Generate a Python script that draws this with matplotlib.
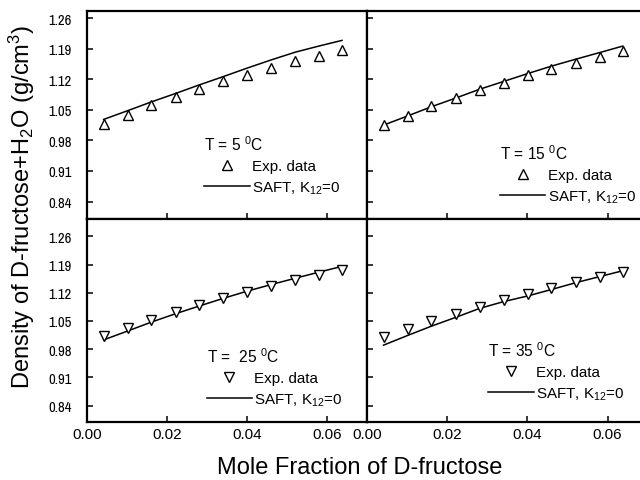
import matplotlib
matplotlib.use("Agg")
import matplotlib.pyplot as plt
from matplotlib import font_manager

plt.rcParams['font.family'] = ['Liberation Sans', 'DejaVu Sans']
plt.rcParams['mathtext.fontset'] = 'custom'
plt.rcParams['mathtext.rm'] = 'Liberation Sans'
plt.rcParams['mathtext.it'] = 'Liberation Sans:italic'
plt.rcParams['mathtext.bf'] = 'Liberation Sans:bold'

installed = {f.name for f in font_manager.fontManager.ttflist}
ytick_family = 'Liberation Sans'
for cand in ['Liberation Sans Narrow', 'Arial Narrow', 'Archivo Narrow', 'Roboto Condensed',
             'Open Sans Condensed', 'Barlow Semi Condensed']:
    if cand in installed:
        ytick_family = cand
        break

# ---- data ----
mole_fraction = [0.0042, 0.0102, 0.0161, 0.0222, 0.0281, 0.0341, 0.0401, 0.0460, 0.0521, 0.0580, 0.0638]

exp_5C  = [1.018, 1.039, 1.060, 1.079, 1.098, 1.115, 1.130, 1.146, 1.162, 1.174, 1.187]
saft_5C = [1.028, 1.048, 1.068, 1.0875, 1.107, 1.126, 1.1456, 1.164, 1.182, 1.196, 1.209]

exp_15C  = [1.016, 1.037, 1.058, 1.077, 1.096, 1.112, 1.129, 1.144, 1.158, 1.172, 1.184]
saft_15C = [1.015, 1.036, 1.057, 1.077, 1.097, 1.115, 1.133, 1.150, 1.166, 1.181, 1.196]

exp_25C  = [1.012, 1.032, 1.053, 1.073, 1.090, 1.106, 1.1225, 1.137, 1.1515, 1.165, 1.177]
saft_25C = [1.003, 1.025, 1.047, 1.068, 1.087, 1.106, 1.124, 1.140, 1.156, 1.171, 1.1855]

exp_35C  = [1.009, 1.030, 1.049, 1.067, 1.085, 1.102, 1.1175, 1.132, 1.1466, 1.160, 1.1706]
saft_35C = [0.990, 1.014, 1.037, 1.059, 1.081, 1.098, 1.112, 1.128, 1.145, 1.160, 1.1746]

temp_labels = ['T = 5 $^{0}$C', 'T = 15 $^{0}$C', 'T =  25 $^{0}$C', 'T = 35 $^{0}$C']
x_ticks = [0.00, 0.02, 0.04, 0.06]
y_ticks = [0.84, 0.91, 0.98, 1.05, 1.12, 1.19, 1.26]

W, H = 640, 481
fig = plt.figure(figsize=(W / 100, H / 100), dpi=100)

def box(x0, y0, x1, y1):
    # pixel box (top-left origin) -> figure fraction rect
    return [x0 / W, 1 - y1 / H, (x1 - x0) / W, (y1 - y0) / H]

panels = [
    dict(rect=box(86.8, 11.7, 366.8, 220.0), ylim=(0.80, 1.277), exp=exp_5C, saft=saft_5C,
         marker='^', label=temp_labels[0], leg=(0.419, 0.405), left=True, bottom=False),
    dict(rect=box(366.7, 11.7, 647.7, 220.0), ylim=(0.80, 1.277), exp=exp_15C, saft=saft_15C,
         marker='^', label=temp_labels[1], leg=(0.474, 0.362), left=False, bottom=False),
    dict(rect=box(86.8, 220.0, 366.8, 422.7), ylim=(0.80, 1.303), exp=exp_25C, saft=saft_25C,
         marker='v', label=temp_labels[2], leg=(0.428, 0.372), left=True, bottom=True),
    dict(rect=box(366.7, 220.0, 647.7, 422.7), ylim=(0.80, 1.303), exp=exp_35C, saft=saft_35C,
         marker='v', label=temp_labels[3], leg=(0.433, 0.400), left=False, bottom=True),
]

for p in panels:
    ax = fig.add_axes(p['rect'])
    ax.plot(mole_fraction, p['exp'], linestyle='none', marker=p['marker'], markersize=7,
            markerfacecolor='white', markeredgecolor='black', markeredgewidth=1.0,
            label='Exp. data', zorder=3)
    ax.plot(mole_fraction, p['saft'], color='black', linewidth=1.1,
            label='SAFT, K$_{12}$=0', zorder=2)
    ax.set_xlim(0, 0.07)
    ax.set_ylim(*p['ylim'])
    ax.set_xticks(x_ticks)
    ax.set_yticks(y_ticks)
    ax.tick_params(axis='both', direction='in', length=4.5, width=1.1,
                   top=False, right=False)
    ax.tick_params(axis='y', pad=11.0)
    ax.tick_params(axis='x', pad=4.0)
    if p['left']:
        ax.set_yticklabels([f'{v:.2f}' for v in y_ticks], fontsize=10.5, family=ytick_family)
    else:
        ax.set_yticklabels([])
    if p['bottom']:
        ax.set_xticklabels([f'{v:.2f}' for v in x_ticks], fontsize=11)
    else:
        ax.set_xticklabels([])
    for s in ax.spines.values():
        s.set_linewidth(1.6)
    ax.legend(title=p['label'], loc='upper left', bbox_to_anchor=p['leg'],
              frameon=False, fontsize=10.9, title_fontsize=11.2, borderpad=0,
              borderaxespad=0, handlelength=3.0, handletextpad=0.15,
              labelspacing=0.4, alignment='left', numpoints=1)

fig.text(22 / W, 1 - 207 / H, 'Density of D-fructose+H$_2$O (g/cm$^3$)', rotation=90,
         fontsize=17, ha='center', va='center')
fig.text(360 / W, 1 - 468 / H, 'Mole Fraction of D-fructose', fontsize=17,
         ha='center', va='center')

fig.savefig('out.png', dpi=100)
